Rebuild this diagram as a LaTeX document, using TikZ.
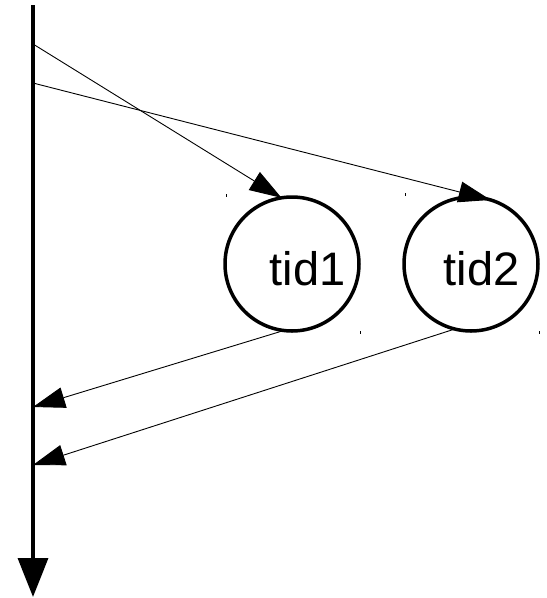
\documentclass[tikz,border=0pt]{standalone}
\usepackage{fontspec}
\setmainfont{Liberation Sans}
\usetikzlibrary{arrows.meta}
\begin{document}
\begin{tikzpicture}[x=1pt,y=-1pt,
  proc/.style={circle,draw,line width=3.5pt,minimum size=134pt,inner sep=0pt,outer sep=0pt},
  lbl/.style={font=\fontsize{47}{56}\selectfont,anchor=base,inner sep=0pt},
  msg/.style={line width=0.9pt,-{Triangle[length=32pt,width=21pt]}},
  tick/.style={line width=1pt}]
\useasboundingbox (0,0) rectangle (547,598);
% time axis
\coordinate (top) at (33,5);
\coordinate (bot) at (33,597);
\draw[line width=3.5pt,-{Triangle[length=39pt,width=30pt]}] (top) -- (bot);
\coordinate (s1) at (33,44);
\coordinate (s2) at (33,83);
\coordinate (r1) at (33,407);
\coordinate (r2) at (33,465);
% processes
\node[proc] (c1) at (292,264) {};
\node[proc] (c2) at (471,264) {};
\node[lbl] (t1) at (307.5,285) {tid1};
\node[lbl] (t2) at (481.5,285) {tid2};
% messages
\draw[msg] (s1) -- (c1.99);
\draw[msg] (s2) -- (c2.73);
\draw[msg] (c1.263) -- (r1);
\draw[msg] (c2.256) -- (r2);
% frame corner marks
\coordinate (k1) at (226,194);
\coordinate (k2) at (405,193);
\coordinate (k3) at (360,331);
\coordinate (k4) at (539,331);
\draw[tick] (k1) -- ++(0,3);
\draw[tick] (k2) -- ++(0,3);
\draw[tick] (k3) -- ++(0,3);
\draw[tick] (k4) -- ++(0,3);
\end{tikzpicture}
\end{document}
